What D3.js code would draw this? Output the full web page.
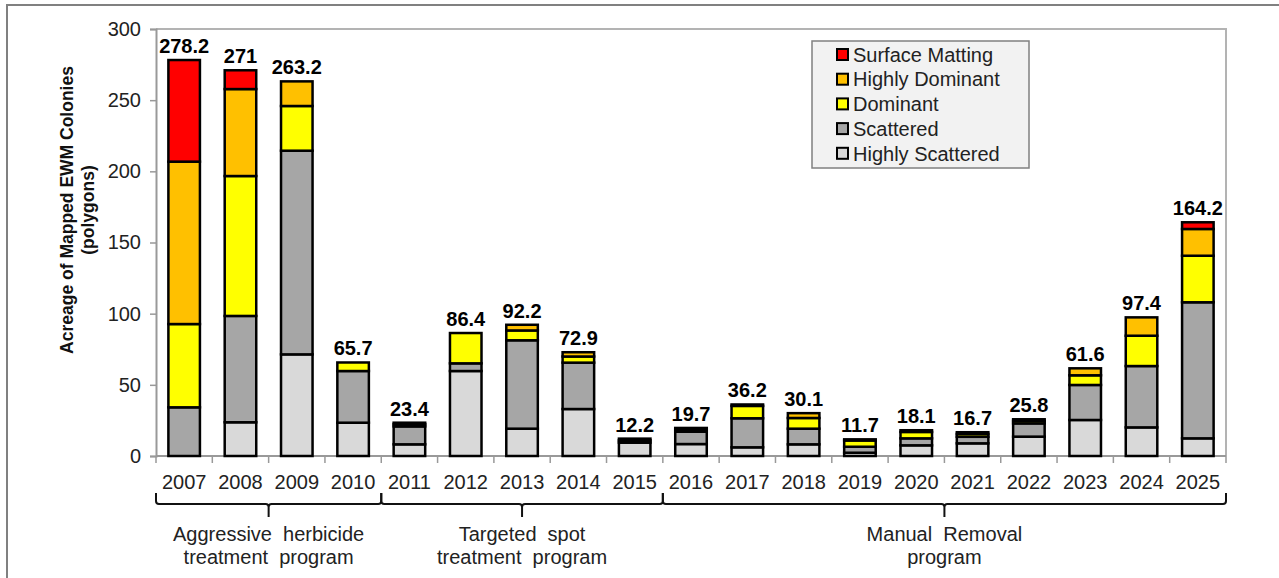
<!DOCTYPE html>
<html>
<head>
<meta charset="utf-8">
<script src="https://cdn.jsdelivr.net/npm/d3@7"></script>
<style>
  body { margin: 0; background: #fff; }
  svg text { font-family: "Liberation Sans", Arial, sans-serif; }
</style>
</head>
<body>
<svg width="1279" height="578"></svg>
<script>
// data
var years = ["2007","2008","2009","2010","2011","2012","2013","2014","2015","2016",
             "2017","2018","2019","2020","2021","2022","2023","2024","2025"];
var highlyScattered = [0, 23.7, 71.4, 23.4, 8.2, 59.7, 19.2, 33.0, 9.4, 8.4, 6.1, 8.2, 2.3, 7.5, 8.9, 13.6, 25.3, 20.1, 12.4];
var scattered       = [34.2, 74.7, 143.1, 36.3, 12.6, 5.4, 62.1, 32.6, 1.6, 8.7, 20.4, 11.0, 4.2, 4.9, 4.6, 9.3, 24.6, 43.1, 95.6];
var dominant        = [58.5, 98.3, 31.4, 6.0, 1.6, 21.3, 6.9, 4.3, 1.2, 1.6, 8.7, 7.5, 4.4, 4.5, 2.0, 1.8, 6.8, 21.3, 32.7];
var highlyDominant  = [114.1, 61.1, 17.3, 0, 1.0, 0, 4.0, 3.0, 0, 1.0, 1.0, 3.4, 0.8, 1.2, 1.2, 1.1, 4.9, 12.9, 18.8];
var surfaceMatting  = [71.4, 13.2, 0, 0, 0, 0, 0, 0, 0, 0, 0, 0, 0, 0, 0, 0, 0, 0, 4.7];
var totals = [278.2, 271, 263.2, 65.7, 23.4, 86.4, 92.2, 72.9, 12.2, 19.7, 36.2, 30.1, 11.7, 18.1, 16.7, 25.8, 61.6, 97.4, 164.2];
var yTicks = [0, 50, 100, 150, 200, 250, 300];

var seriesNames = ["Highly Scattered", "Scattered", "Dominant", "Highly Dominant", "Surface Matting"];
var seriesValues = [highlyScattered, scattered, dominant, highlyDominant, surfaceMatting];
var colors = ["#d9d9d9", "#a6a6a6", "#ffff00", "#ffc000", "#ff0000"];

var groups = [
  {lines: ["Aggressive  herbicide", "treatment  program"], from: 0, to: 3},
  {lines: ["Targeted  spot", "treatment  program"], from: 4, to: 8},
  {lines: ["Manual  Removal", "program"], from: 9, to: 18}
];

var svg = d3.select("svg");

// buitenste kader
svg.append("rect")
    .attr("x", 7).attr("y", 5)
    .attr("width", 1320).attr("height", 620)
    .attr("fill", "none").attr("stroke", "#808080").attr("stroke-width", 2);

var plotLeft = 156, plotRight = 1226, plotTop = 29, plotBottom = 456;

var x = d3.scaleBand().domain(years).range([plotLeft, plotRight])
    .paddingInner(0.44).paddingOuter(0.22);
var y = d3.scaleLinear().domain([0, 300]).range([plotBottom, plotTop]);

// table for the stack
var table = years.map(function(yr, i) {
  var row = {year: yr};
  seriesNames.forEach(function(s, k) { row[s] = seriesValues[k][i]; });
  return row;
});
var stacked = d3.stack().keys(seriesNames)(table);

// plot border top + right
svg.append("path")
    .attr("d", "M" + plotLeft + "," + plotTop + "H" + plotRight + "V" + plotBottom)
    .attr("fill", "none").attr("stroke", "#b3b3b3").attr("stroke-width", 2);

// y axis
var yAxis = svg.append("g")
    .attr("transform", "translate(" + plotLeft + ",0)")
    .call(d3.axisLeft(y).tickValues(yTicks).tickSize(6).tickPadding(9));
yAxis.select(".domain").attr("stroke", "#999").attr("stroke-width", 2);
yAxis.selectAll(".tick line").attr("stroke", "#999").attr("stroke-width", 1.5);
yAxis.selectAll("text").style("font-size", "20px").attr("fill", "#222")
    .style("font-family", "'Liberation Sans', Arial, sans-serif");

// x axis (labels only, boundary ticks below)
var xAxis = svg.append("g")
    .attr("transform", "translate(0," + plotBottom + ")")
    .call(d3.axisBottom(x).tickSize(0).tickPadding(19));
xAxis.select(".domain").remove();
xAxis.selectAll("text").style("font-size", "20px").attr("fill", "#222")
    .style("font-family", "'Liberation Sans', Arial, sans-serif");

var half = (x.step() - x.bandwidth()) / 2;
function edge(i) {
  if (i < years.length) return x(years[i]) - half;
  return x(years[years.length - 1]) + x.bandwidth() + half;
}
var edges = d3.range(years.length + 1);

svg.append("line")
    .attr("x1", plotLeft).attr("x2", plotRight)
    .attr("y1", plotBottom).attr("y2", plotBottom)
    .attr("stroke", "#999").attr("stroke-width", 2);
svg.selectAll(".xtick")
  .data(edges)
  .enter().append("line")
    .attr("class", "xtick")
    .attr("x1", function(i) { return edge(i); })
    .attr("x2", function(i) { return edge(i); })
    .attr("y1", plotBottom).attr("y2", plotBottom + 7)
    .attr("stroke", "#999").attr("stroke-width", 1.5);

// bars
svg.selectAll(".serie")
  .data(stacked)
  .enter().append("g")
    .attr("class", "serie")
    .attr("fill", function(d, k) { return colors[k]; })
  .selectAll("rect")
  .data(function(d) { return d.filter(function(p) { return p[1] - p[0] > 0; }); })
  .enter().append("rect")
    .attr("x", function(p) { return x(p.data.year); })
    .attr("y", function(p) { return y(p[1]); })
    .attr("width", x.bandwidth())
    .attr("height", function(p) { return y(p[0]) - y(p[1]); })
    .attr("stroke", "#000")
    .attr("stroke-width", 2.5);

// totals
svg.selectAll(".total")
  .data(totals)
  .enter().append("text")
    .attr("class", "total")
    .attr("x", function(d, i) { return x(years[i]) + x.bandwidth() / 2; })
    .attr("y", function(d) { return y(d) - 7; })
    .attr("text-anchor", "middle")
    .style("font-size", "20px")
    .style("font-weight", "bold")
    .text(function(d) { return d; });

// y-as titel
var yTitle = svg.append("text")
    .attr("transform", "translate(73,210) rotate(-90)")
    .attr("text-anchor", "middle")
    .style("font-size", "17.5px")
    .style("font-weight", "bold")
    .attr("fill", "#111");
yTitle.append("tspan").attr("x", 0).attr("y", 0).text("Acreage of Mapped EWM Colonies");
yTitle.append("tspan").attr("x", 0).attr("y", 21).text("(polygons)");

// legend
var lg = svg.append("g");
lg.append("rect")
    .attr("x", 812).attr("y", 41).attr("width", 217).attr("height", 127)
    .attr("fill", "#f2f2f2").attr("stroke", "#808080").attr("stroke-width", 1.5);
var legendOrder = seriesNames.slice().reverse();
var item = lg.selectAll(".item")
  .data(legendOrder)
  .enter().append("g")
    .attr("class", "item")
    .attr("transform", function(d, i) { return "translate(0," + (54.5 + i * 24.7) + ")"; });
item.append("rect")
    .attr("x", 837).attr("y", -5.5).attr("width", 11).attr("height", 11)
    .attr("fill", function(d) { return colors[seriesNames.indexOf(d)]; })
    .attr("stroke", "#000").attr("stroke-width", 2);
item.append("text")
    .attr("x", 853).attr("dy", "0.36em")
    .style("font-size", "20px")
    .attr("fill", "#222")
    .text(function(d) { return d; });

// accolades onder de jaren
var bTop = 493, bMid = 504, bBot = 517;
groups.forEach(function(g) {
  var x0 = edge(g.from), x1 = edge(g.to + 1), xm = (x0 + x1) / 2;
  var path = "M" + x0 + "," + bTop +
             "V" + (bMid - 3) + "Q" + x0 + "," + bMid + " " + (x0 + 3) + "," + bMid +
             "H" + (xm - 3) + "Q" + xm + "," + bMid + " " + xm + "," + (bMid + 3) +
             "V" + bBot +
             "M" + xm + "," + (bMid + 3) + "Q" + xm + "," + bMid + " " + (xm + 3) + "," + bMid +
             "H" + (x1 - 3) + "Q" + x1 + "," + bMid + " " + x1 + "," + (bMid - 3) +
             "V" + bTop;
  svg.append("path")
      .attr("d", path)
      .attr("fill", "none")
      .attr("stroke", "#111")
      .attr("stroke-width", 2);
  var t = svg.append("text")
      .attr("text-anchor", "middle")
      .style("font-size", "20px")
      .style("white-space", "pre")
      .attr("fill", "#222");
  g.lines.forEach(function(line, j) {
    t.append("tspan").attr("x", xm).attr("y", 541 + j * 23).text(line);
  });
});
</script>
</body>
</html>
